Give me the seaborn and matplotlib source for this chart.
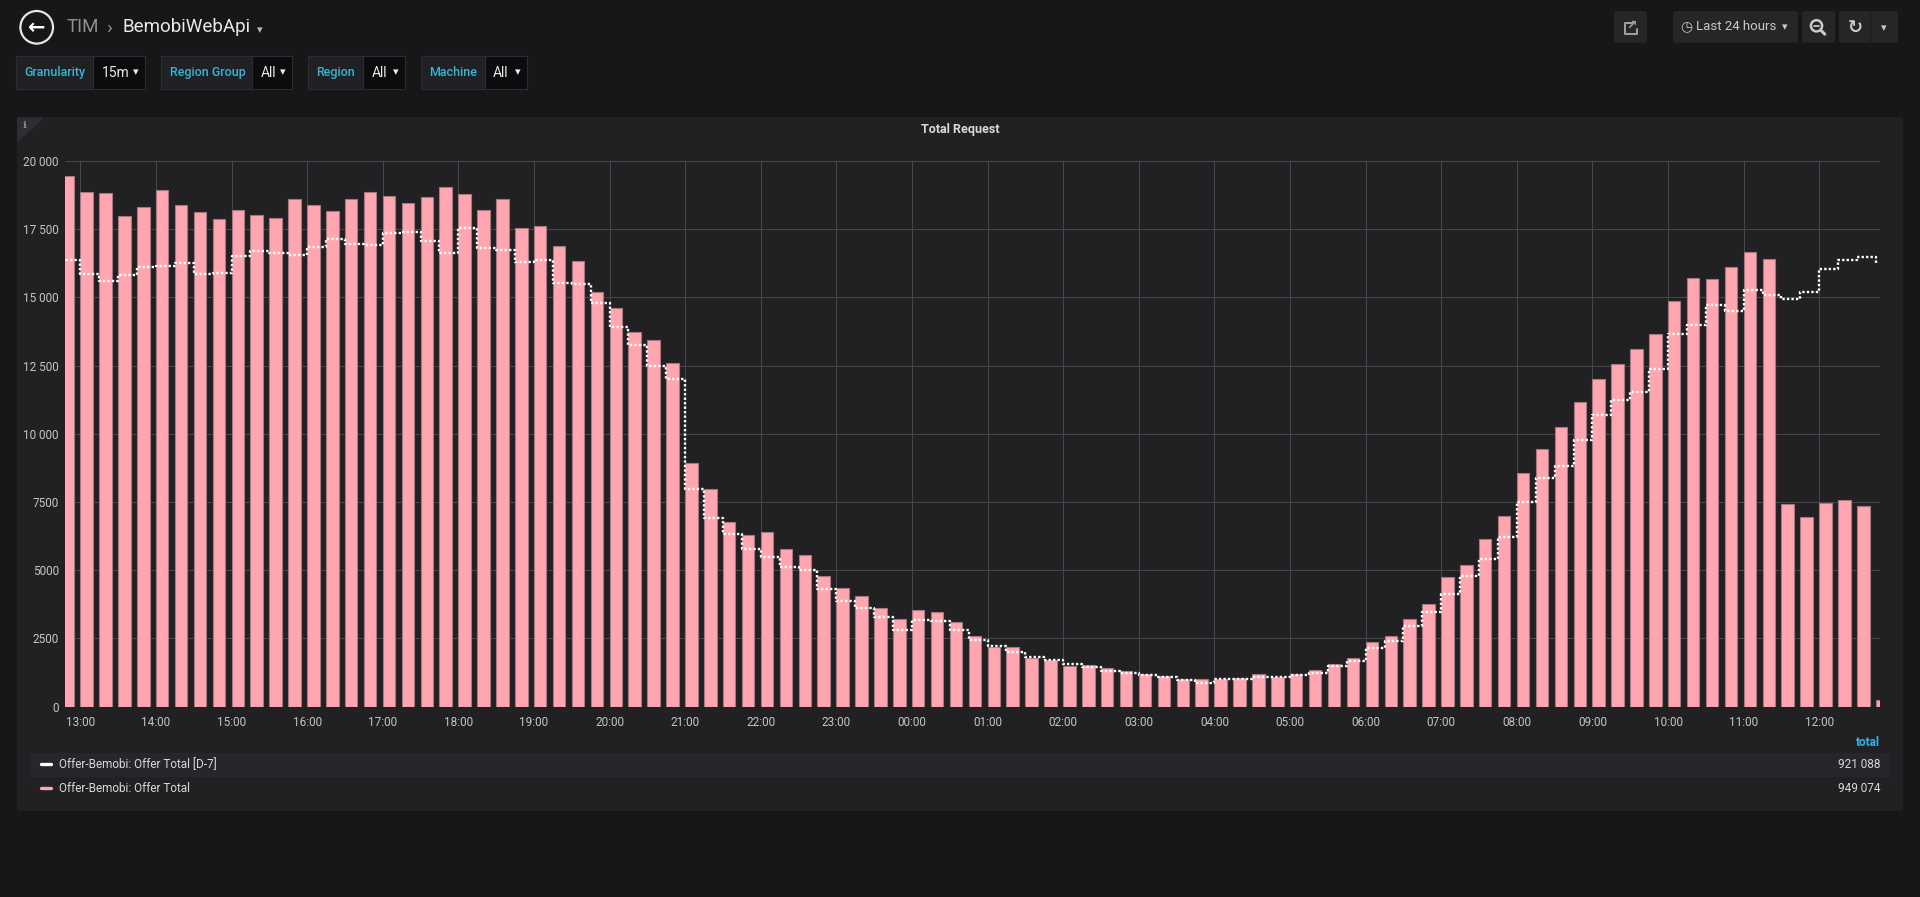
import datetime as dt

import matplotlib
matplotlib.use('Agg')
import matplotlib.pyplot as plt
import matplotlib.dates as mdates
from matplotlib.patches import Rectangle, FancyBboxPatch, Circle, Polygon
from matplotlib.ticker import FuncFormatter
import pandas as pd
import seaborn as sns


# 15 minute slots, 12:45 -> 12:45 next day
start_time = '2019-03-20 12:45'
slot_minutes = 15

offer_total = [
    19450, 18865, 18818, 17974, 18304, 18939, 18400, 18121, 17887, 18217,
    18033, 17923, 18620, 18389, 18157, 18597, 18877, 18707, 18473, 18671,
    19038, 18803, 18205, 18609, 17546, 17608, 16897, 16347, 15199, 14624,
    13740, 13440, 12595, 8947, 7968, 6769, 6291, 6389, 5765, 5557,
    4786, 4333, 4064, 3599, 3207, 3525, 3476, 3084, 2570, 2203,
    2203, 1799, 1714, 1493, 1530, 1408, 1322, 1187, 1138, 1028,
    1028, 1028, 1035, 1187, 1102, 1212, 1359, 1554, 1775, 2350,
    2595, 3207, 3758, 4737, 5178, 6157, 6977, 8556, 9449, 10245,
    11163, 12007, 12558, 13097, 13648, 14859, 15728, 15679, 16120, 16671,
    16414, 7417, 6952, 7454, 7564, 7368, 233,
]

offer_total_d7 = [
    16372, 15870, 15603, 15811, 16105, 16152, 16262, 15870, 15907, 16530,
    16702, 16640, 16556, 16849, 17131, 16959, 16911, 17351, 17399, 17080,
    16618, 17534, 16823, 16728, 16299, 16383, 15529, 15481, 14796, 13916,
    13250, 12485, 12020, 7980, 6928, 6316, 5790, 5496, 5129, 5018,
    4308, 3880, 3599, 3268, 2803, 3182, 3133, 2815, 2424, 2228,
    1995, 1812, 1714, 1567, 1457, 1310, 1248, 1150, 1089, 979,
    881, 1004, 1030, 1077, 1077, 1151, 1224, 1493, 1677, 2142,
    2399, 2962, 3476, 4113, 4798, 5410, 6206, 7515, 8384, 8837,
    9755, 10698, 11224, 11542, 12375, 13672, 14003, 14712, 14504, 15288,
    15080, 14933, 15214, 16034, 16389, 16463, 16242,
]

legend_labels = ['Offer-Bemobi: Offer Total [D-7]', 'Offer-Bemobi: Offer Total']
legend_totals = ['921 088', '949 074']
legend_colors = ['#ffffff', '#ffa6b0']

template_vars = [('Granularity', '15m'), ('Region Group', 'All'),
                 ('Region', 'All'), ('Machine', 'All')]

PAGE_BG = '#161719'
PANEL_BG = '#212124'
BAR_COLOR = '#ffa6b0'
TEXT = '#d8d9da'
BLUE = '#35b5d8'
ICON = '#c8c9ca'


def y_label(v, _pos):
    '''Grafana style: space as thousand separator only from 10 000'''
    if v >= 10000:
        return f'{v:,.0f}'.replace(',', ' ')
    return f'{v:.0f}'


def draw_header(bg):
    '''back button, breadcrumb, template variables and time controls'''
    bg.add_patch(Circle((36.7, 27.3), 16.3, fill=False, edgecolor='#e6e6e6', lw=1.6))
    bg.text(36.7, 27.8, '←', ha='center', va='center', color='#ffffff',
            fontsize=15, fontweight='bold', family=['DejaVu Sans'])
    bg.text(67, 27.5, 'TIM', ha='left', va='center', color='#8e8f91', fontsize=13.5)
    bg.text(106, 27.5, '›', ha='left', va='center', color='#8e8f91', fontsize=14)
    bg.text(123, 27.5, 'BemobiWebApi', ha='left', va='center', color='#e9e9e9', fontsize=13.5)
    bg.text(257, 30, '▾', ha='left', va='center', color='#bbbbbb', fontsize=8,
            family=['DejaVu Sans'])

    # template variable boxes (x start, split, x end)
    boxes = [(16.3, 93, 145), (161, 252, 292), (308, 363, 405), (421, 484.5, 526.5)]
    y0, y1 = 55.7, 89.3
    for (name, value), (x0, xs, x1) in zip(template_vars, boxes):
        bg.add_patch(Rectangle((x0, y0), x1 - x0, y1 - y0, facecolor='#202124',
                               edgecolor='#2c2d30', lw=0.8))
        bg.add_patch(Rectangle((xs, y0), x1 - xs, y1 - y0, facecolor='#0b0c0e',
                               edgecolor='#2c2d30', lw=0.8))
        bg.text(x0 + 8.5, 72.8, name, ha='left', va='center', color=BLUE,
                fontsize=9, fontweight='medium')
        bg.text(xs + 8.5, 72.8, value, ha='left', va='center',
                color='#ececec', fontsize=10)
        bg.text(x1 - 9, 72.5, '▾', ha='center', va='center',
                color='#ececec', fontsize=8, family=['DejaVu Sans'])

    # right side buttons
    def button(x0, x1):
        bg.add_patch(FancyBboxPatch((x0, 11), x1 - x0, 31.7,
                                    boxstyle='round,pad=0,rounding_size=2.5',
                                    facecolor='#262628', edgecolor='none'))

    button(1614, 1647)
    button(1673, 1798)
    button(1802, 1835)
    button(1839, 1898)
    bg.plot([1870, 1870], [11, 42.7], color='#1b1c1e', lw=1)

    # share icon: open box with arrow
    bg.plot([1633, 1624.5, 1624.5, 1636.5, 1636.5], [23, 23, 34, 34, 29],
            color='#a0a1a4', lw=1.4)
    bg.text(1632, 25, '↗', ha='center', va='center', color='#a0a1a4',
            fontsize=9, fontweight='bold', family=['DejaVu Sans'])

    bg.text(1686.5, 27, '◷', ha='center', va='center', color=ICON,
            fontsize=10, family=['DejaVu Sans'])
    bg.text(1696, 27, 'Last 24 hours', ha='left', va='center', color=ICON, fontsize=9.5)
    bg.text(1785, 27, '▾', ha='center', va='center', color=ICON, fontsize=8,
            family=['DejaVu Sans'])

    # zoom out: magnifier
    bg.add_patch(Circle((1816.5, 25.8), 5.6, fill=False, edgecolor=ICON, lw=1.8))
    bg.plot([1820.6, 1824.8], [30, 34.2], color=ICON, lw=2.2, solid_capstyle='round')
    bg.plot([1813.8, 1819.2], [25.8, 25.8], color=ICON, lw=1.3)

    bg.text(1855, 27.5, '↻', ha='center', va='center', color=ICON, fontsize=13,
            fontweight='bold', family=['DejaVu Sans'])
    bg.text(1884, 28, '▾', ha='center', va='center', color=ICON, fontsize=8,
            family=['DejaVu Sans'])


def draw_panel(bg):
    '''panel background, title and legend table'''
    bg.add_patch(Rectangle((17, 117.5), 1886, 693.2, facecolor=PANEL_BG, edgecolor='none'))
    bg.add_patch(Polygon([(17, 117.5), (44, 117.5), (17, 143)], closed=True,
                         facecolor='#2d2e32', edgecolor='none'))
    bg.text(22.5, 125.5, 'i', ha='left', va='center', color='#8e8f93',
            fontsize=7.5, fontweight='bold', family=['DejaVu Serif'])
    bg.text(960, 130, 'Total Request', ha='center', va='center', color=TEXT,
            fontsize=9, fontweight='bold')

    bg.text(1880, 742, 'total', ha='right', va='center', color='#33b5e5',
            fontsize=8.5, fontweight='bold')
    bg.add_patch(Rectangle((29.8, 752.7), 1860.2, 24, facecolor='#26272a', edgecolor='none'))
    rows_y = [764.5, 788.5]
    for label, total, color, y in zip(legend_labels, legend_totals, legend_colors, rows_y):
        bg.plot([41, 51], [y, y], color=color, lw=2.4, solid_capstyle='round')
        bg.text(59, y, label, ha='left', va='center', color=TEXT, fontsize=8.5)
        bg.text(1880, y, total, ha='right', va='center', color=TEXT, fontsize=8.5)


def draw_chart(fig):
    '''bars for today, dotted staircase for D-7'''
    times = pd.date_range(start_time, periods=len(offer_total),
                          freq=f'{slot_minutes}min').to_pydatetime()
    df = pd.DataFrame({'time': times, 'total': offer_total, 'total_d7': offer_total_d7})

    left, right = 65 / 1920, 1879.5 / 1920
    bottom, top = 1 - 706.6 / 897, 1 - 161 / 897
    ax = fig.add_axes([left, bottom, right - left, top - bottom])
    ax.set_facecolor('none')

    bar_width = dt.timedelta(minutes=slot_minutes * 0.66)
    ax.bar(df['time'].dt.to_pydatetime(), df['total'], width=bar_width, align='edge',
           color=BAR_COLOR, edgecolor='#a8767e', linewidth=0.8, zorder=2)

    sns.lineplot(data=df, x='time', y='total_d7', ax=ax, drawstyle='steps-post',
                 color='#ffffff', linewidth=1.7, linestyle=(0, (1, 0.9)),
                 errorbar=None, legend=False, zorder=3)

    x_start = pd.Timestamp(start_time) + pd.Timedelta(minutes=2, seconds=50)
    ax.set_xlim(x_start.to_pydatetime(), (x_start + pd.Timedelta(hours=24)).to_pydatetime())
    ax.set_ylim(0, 20000)
    ax.set_yticks(range(0, 20001, 2500))
    ax.yaxis.set_major_formatter(FuncFormatter(y_label))
    ax.xaxis.set_major_locator(mdates.HourLocator())
    ax.xaxis.set_major_formatter(mdates.DateFormatter('%H:%M'))

    ax.set_xlabel('')
    ax.set_ylabel('')
    ax.set_axisbelow(True)
    ax.grid(True, color='#46474a', linewidth=0.75)
    for spine in ax.spines.values():
        spine.set_visible(False)
    ax.tick_params(axis='both', length=0, colors='#c4c5c7', labelsize=8.5)
    ax.tick_params(axis='x', pad=7)
    ax.tick_params(axis='y', pad=4.5)
    return ax


def main():
    sns.set_theme(style='dark')
    plt.rcParams['font.family'] = ['Roboto', 'DejaVu Sans']

    fig = plt.figure(figsize=(19.2, 8.97), dpi=100, facecolor=PAGE_BG)

    # pixel space background layer for the dashboard chrome
    bg = fig.add_axes([0, 0, 1, 1], zorder=-1)
    bg.set_xlim(0, 1920)
    bg.set_ylim(897, 0)
    bg.axis('off')
    draw_header(bg)
    draw_panel(bg)

    draw_chart(fig)
    fig.savefig('out.png', dpi=100, facecolor=PAGE_BG)


if __name__ == '__main__':
    main()
